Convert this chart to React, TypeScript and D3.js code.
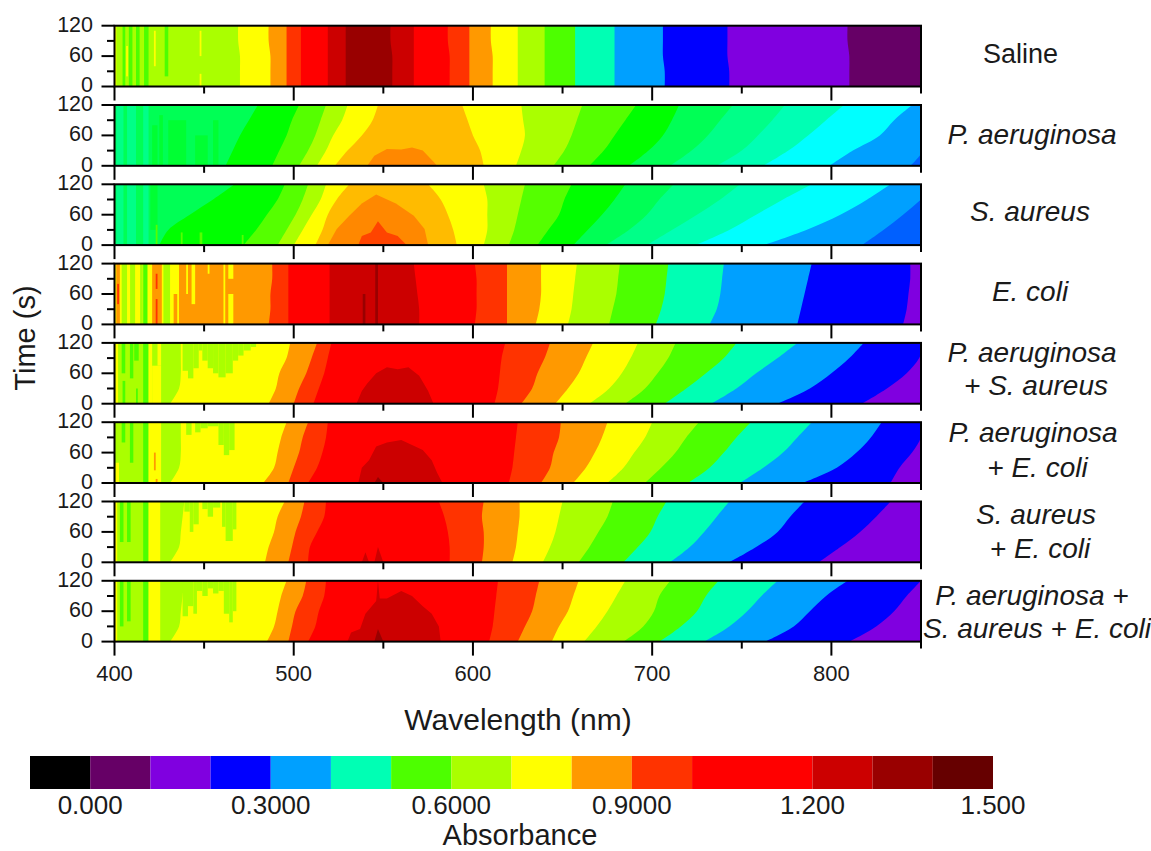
import React from "react";
import * as d3 from "d3";

// absorbance colour key, shown in the legend
const legendLevels = [-0.1, 0, 0.1, 0.2, 0.3, 0.4, 0.5, 0.6, 0.7, 0.8, 0.9, 1.0, 1.2, 1.3, 1.4, 1.5];
const legendColors = ["#000000", "#660066", "#8000e0", "#0000ff", "#00a0ff", "#00ffb4", "#4dff00", "#aaff00", "#ffff00", "#ff9900", "#ff3300", "#ff0000", "#cc0000", "#990000", "#660000"];
const legendTicks = [0, 0.3, 0.6, 0.9, 1.2, 1.5];
const legendLabels = ["0.000", "0.3000", "0.6000", "0.9000", "1.200", "1.500"];

// the two single-species panels use a finer contour step
const fineLevels = [0.34, 0.38, 0.42, 0.46, 0.5, 0.54, 0.555, 0.58, 0.62, 0.66, 0.7, 0.74, 0.78];
const fineColors = ["#0060ff", "#00a0ff", "#00ffff", "#00ffb4", "#00ff88", "#00ff55", "#00ff33", "#00ff00", "#55ff00", "#aaff00", "#ffff00", "#ffbb00", "#ff8800", "#ff4400"];

const timeNodes = [0, 30, 60, 90, 120];
const timeTicks = [0, 30, 60, 90, 120];
const wavelengthTicks = [400, 450, 500, 550, 600, 650, 700, 750, 800, 850];

// contour edges: [absorbance of the band to the right, wavelength at each time node]
const salineEdges = [
  [0.65, 400, 400, 400, 400, 400],
  [0.75, 470, 470, 470, 469, 469],
  [0.85, 487, 487, 487, 486, 486],
  [0.95, 496, 496, 496, 496, 496],
  [1.05, 504, 504, 504, 504, 504],
  [1.25, 519, 519, 519, 519, 519],
  [1.35, 529, 529, 529, 529, 529],
  [1.25, 555, 555, 555, 554, 554],
  [1.05, 567, 567, 567, 567, 567],
  [0.95, 587, 587, 587, 586, 586],
  [0.85, 598, 598, 598, 598, 598],
  [0.75, 611, 611, 611, 610, 610],
  [0.65, 625, 625, 625, 625, 625],
  [0.55, 640, 640, 640, 640, 640],
  [0.45, 657, 657, 657, 657, 657],
  [0.35, 679, 679, 679, 679, 679],
  [0.25, 707, 707, 706, 706, 706],
  [0.15, 743, 743, 742, 742, 742],
  [0.05, 810, 810, 810, 809, 809],
];
const pAeruginosaEdges = [
  [0.52, 400, 400, 400, 400, 400],
  [0.57, 462, 466, 470, 475, 480],
  [0.6, 488, 492, 496, 499, 503],
  [0.64, 503, 508, 512, 515, 518],
  [0.68, 513, 518, 522, 527, 530],
  [0.72, 523, 530, 538, 544, 547],
  [0.68, 606, 604, 600, 597, 594],
  [0.64, 624, 627, 629, 628, 627],
  [0.6, 645, 651, 655, 658, 661],
  [0.57, 665, 673, 679, 685, 691],
  [0.52, 687, 698, 706, 711, 715],
  [0.48, 710, 722, 731, 738, 745],
  [0.44, 736, 750, 759, 767, 774],
  [0.4, 762, 776, 787, 797, 807],
  [0.36, 799, 812, 827, 835, 845],
  [0.32, 844, 851, 851, 851, 851],
];
const sAureusEdges = [
  [0.52, 400, 400, 400, 400, 400],
  [0.57, 425, 430, 442, 455, 467],
  [0.6, 472, 479, 485, 491, 495],
  [0.64, 491, 496, 501, 505, 508],
  [0.68, 500, 505, 510, 515, 518],
  [0.72, 512, 516, 519, 524, 531],
  [0.68, 591, 589, 586, 582, 575],
  [0.64, 606, 608, 608, 608, 606],
  [0.6, 620, 623, 625, 627, 629],
  [0.57, 636, 642, 648, 651, 655],
  [0.52, 656, 664, 672, 679, 685],
  [0.48, 674, 687, 697, 704, 712],
  [0.44, 697, 711, 725, 738, 749],
  [0.4, 724, 743, 758, 773, 789],
  [0.36, 762, 786, 805, 820, 833],
  [0.32, 817, 829, 840, 850, 860],
];
const eColiEdges = [
  [0.75, 400, 400, 400, 400, 400],
  [0.85, 436, 436, 436, 436, 436],
  [0.95, 486, 487, 487, 488, 488],
  [1.05, 497, 497, 497, 497, 497],
  [1.25, 520, 520, 520, 520, 520],
  [1.05, 570, 570, 569, 568, 567],
  [0.95, 601, 602, 602, 602, 601],
  [0.85, 619, 619, 619, 619, 619],
  [0.75, 635, 637, 638, 638, 638],
  [0.65, 653, 655, 656, 657, 658],
  [0.55, 676, 678, 680, 681, 682],
  [0.45, 702, 705, 707, 708, 709],
  [0.35, 732, 736, 738, 739, 740],
  [0.25, 781, 783, 785, 787, 789],
  [0.15, 840, 842, 843, 844, 844],
];
const paSaEdges = [
  [0.65, 400, 400, 400, 400, 400],
  [0.75, 431, 436, 437, 437, 437],
  [0.85, 486, 490, 492, 496, 498],
  [0.95, 500, 503, 507, 510, 513],
  [1.05, 511, 514, 517, 519, 521],
  [0.95, 612, 614, 615, 616, 618],
  [0.85, 627, 633, 636, 640, 643],
  [0.75, 646, 653, 659, 663, 667],
  [0.65, 665, 676, 683, 688, 692],
  [0.55, 685, 696, 703, 709, 713],
  [0.45, 707, 719, 730, 740, 747],
  [0.35, 733, 747, 758, 770, 781],
  [0.25, 770, 788, 800, 810, 818],
  [0.15, 817, 831, 842, 849, 852],
];
const paEcEdges = [
  [0.65, 400, 400, 400, 400, 400],
  [0.75, 431, 436, 437, 437, 437],
  [0.85, 483, 489, 491, 493, 496],
  [0.95, 497, 500, 503, 505, 508],
  [1.05, 508, 513, 516, 518, 519],
  [0.95, 620, 622, 623, 624, 625],
  [0.85, 638, 643, 645, 648, 649],
  [0.75, 656, 663, 668, 672, 675],
  [0.65, 675, 684, 690, 696, 700],
  [0.55, 696, 705, 713, 719, 726],
  [0.45, 720, 732, 740, 747, 755],
  [0.35, 749, 762, 773, 781, 789],
  [0.25, 784, 803, 814, 822, 828],
  [0.15, 833, 838, 845, 850, 852],
];
const saEcEdges = [
  [0.65, 400, 400, 400, 400, 400],
  [0.75, 431, 436, 437, 438, 439],
  [0.85, 484, 486, 489, 491, 495],
  [0.95, 497, 499, 501, 504, 506],
  [1.05, 508, 509, 513, 517, 518],
  [0.95, 587, 587, 586, 584, 581],
  [0.85, 605, 606, 606, 605, 606],
  [0.75, 622, 624, 625, 626, 626],
  [0.65, 639, 643, 646, 648, 650],
  [0.55, 659, 665, 670, 675, 678],
  [0.45, 684, 692, 699, 703, 708],
  [0.35, 710, 721, 729, 736, 743],
  [0.25, 743, 758, 770, 777, 785],
  [0.15, 793, 805, 816, 825, 833],
];
const allThreeEdges = [
  [0.65, 400, 400, 400, 400, 400],
  [0.75, 431, 436, 437, 438, 439],
  [0.85, 485, 489, 491, 493, 496],
  [0.95, 497, 499, 501, 505, 507],
  [1.05, 508, 512, 514, 517, 518],
  [0.95, 609, 611, 612, 613, 614],
  [0.85, 625, 629, 633, 635, 637],
  [0.75, 644, 648, 653, 656, 659],
  [0.65, 662, 669, 675, 680, 685],
  [0.55, 684, 695, 701, 704, 710],
  [0.45, 704, 716, 725, 730, 737],
  [0.35, 729, 743, 753, 761, 770],
  [0.25, 763, 779, 788, 797, 809],
  [0.15, 810, 825, 835, 842, 850],
];

// closed contours sitting on the t = 0 axis: [absorbance, [wavelength, time]...]
const pAeruginosaIslands = [
  [0.76, [[541, 0], [545, 20], [552, 33], [560, 32], [566, 36], [572, 30], [578, 8], [580, 0]]],
];
const sAureusIslands = [
  [0.76, [[519, 0], [524, 32], [531, 58], [538, 82], [546, 100], [557, 82], [567, 58], [573, 32], [575, 0]]],
  [0.8, [[536, 0], [538, 18], [543, 25], [547, 47], [552, 25], [558, 18], [563, 0]]],
];
const paSaIslands = [
  [1.25, [[535, 0], [538, 25], [541, 40], [546, 60], [552, 72], [558, 68], [564, 72], [570, 55], [575, 25], [578, 0]]],
];
const paEcIslands = [
  [1.25, [[536, 0], [538, 30], [542, 45], [546, 72], [552, 80], [560, 85], [566, 75], [572, 65], [577, 45], [580, 20], [583, 0]]],
  [1.35, [[545, 0], [547, 12], [550, 0]]],
];
const saEcIslands = [
  [1.25, [[538, 0], [540, 20], [542, 0]]],
  [1.25, [[545, 0], [547, 30], [550, 0]]],
];
const allThreeIslands = [
  [1.25, [[530, 0], [532, 18], [537, 25], [540, 55], [546, 80], [547, 120], [548, 85], [552, 85], [560, 100], [566, 90], [572, 70], [577, 55], [581, 30], [582, 0]]],
  [1.35, [[545, 0], [547, 25], [550, 0]]],
];

// narrow vertical noise at the short-wavelength end: [absorbance, from nm, to nm, from s, to s]
const salineStripes = [
  [0.75, 400, 401, 0, 120], [0.55, 404.5, 406, 0, 120], [0.75, 406.5, 407.5, 20, 80], [0.55, 408, 410, 0, 120],
  [0.55, 412, 414, 0, 120], [0.55, 416.5, 419, 0, 120], [0.75, 422, 423, 40, 110], [0.55, 428, 430, 20, 120],
  [0.75, 447.5, 448.5, 0, 25], [0.75, 447.5, 448.5, 60, 110],
];
const pAeruginosaStripes = [
  [0.46, 401, 405, 0, 120], [0.46, 407, 412, 0, 120], [0.46, 416, 419, 0, 120],
  [0.545, 421, 424, 0, 80], [0.545, 425, 427, 0, 100], [0.545, 430, 440, 0, 90],
  [0.545, 445, 452, 0, 60], [0.545, 455, 458, 0, 90],
];
const sAureusStripes = [
  [0.46, 401, 405, 0, 120], [0.46, 407, 412, 0, 120], [0.46, 416, 419, 0, 120],
  [0.545, 420, 424, 30, 120], [0.6, 423, 424, 0, 40], [0.6, 437, 438, 0, 25], [0.6, 447.5, 449, 0, 25], [0.6, 471, 472, 0, 20],
];
const eColiStripes = [
  [0.85, 401, 403, 0, 120], [0.95, 401.5, 402.5, 40, 80], [0.65, 404, 407, 0, 120], [0.65, 408.7, 411.5, 0, 120],
  [0.65, 414.3, 415.8, 0, 120], [0.55, 416, 418.4, 0, 120], [0.85, 421, 426.4, 0, 120], [0.95, 423, 424, 0, 50],
  [0.95, 423, 424, 70, 100], [0.65, 427.3, 431, 0, 120], [0.85, 433, 435, 0, 60],
  [0.75, 440, 441, 60, 120], [0.75, 443, 445, 40, 120], [0.75, 452, 453, 100, 120],
  [0.75, 460.8, 461.8, 0, 120], [0.75, 463.5, 466.3, 0, 60], [0.75, 463.5, 466.3, 90, 120],
  [1.35, 538.5, 540, 0, 60], [1.35, 545.5, 547, 0, 120],
];
const paSaStripes = [
  [0.75, 400.5, 402, 0, 120], [0.55, 404, 406, 60, 120], [0.55, 404.5, 406, 0, 45], [0.55, 408.6, 410.5, 50, 120],
  [0.55, 411, 413.5, 85, 120], [0.55, 412, 413, 0, 30], [0.55, 416, 419, 0, 120],
  [0.75, 419, 421, 0, 120], [0.75, 421, 426, 0, 75], [0.75, 424, 426, 75, 120],
  [0.65, 438, 441, 65, 120], [0.65, 441, 444, 50, 120], [0.65, 444, 447, 70, 120], [0.65, 447, 449, 105, 120],
  [0.65, 449, 452, 85, 120], [0.65, 452, 455, 70, 120], [0.65, 455, 458, 60, 120], [0.65, 458, 462, 52, 120],
  [0.65, 462, 466, 60, 120], [0.65, 466, 469, 85, 120], [0.65, 469, 472, 95, 120], [0.65, 472, 476, 105, 120],
  [0.65, 476, 479, 112, 120],
];
const paEcStripes = [
  [0.75, 400.5, 402.5, 0, 40], [0.55, 404, 406, 80, 120], [0.55, 408.6, 410.5, 40, 120],
  [0.55, 416, 419, 0, 120], [0.75, 419, 426, 0, 120], [0.85, 422, 423, 25, 60], [0.85, 423, 424, 0, 8],
  [0.65, 440, 443, 95, 120], [0.65, 445, 448, 100, 120], [0.65, 448, 452, 108, 120], [0.65, 452, 458, 112, 120],
  [0.65, 458, 461, 75, 120], [0.65, 461, 464, 55, 120], [0.65, 464, 467, 65, 120],
];
const saEcStripes = [
  [0.75, 400, 401.5, 0, 120], [0.55, 403, 405, 40, 120], [0.55, 407, 409, 40, 120],
  [0.55, 416, 419, 0, 120], [0.75, 419, 425.5, 0, 120],
  [0.65, 439, 442, 100, 120], [0.65, 442, 444, 60, 120], [0.65, 444, 447, 75, 120], [0.65, 449, 452, 105, 120],
  [0.65, 452, 455, 90, 120], [0.65, 455, 459, 108, 120], [0.65, 460, 462, 70, 120], [0.65, 462, 466, 42, 120],
  [0.65, 466, 468, 65, 120],
];
const allThreeStripes = [
  [0.75, 400, 401.5, 0, 120], [0.55, 403, 405, 30, 120], [0.55, 407, 409, 40, 120],
  [0.55, 416, 419, 0, 120], [0.75, 419, 425.5, 0, 120],
  [0.65, 438, 441, 50, 120], [0.65, 441, 444, 70, 120], [0.65, 444, 446, 55, 120], [0.65, 446, 449, 100, 120],
  [0.65, 449, 452, 90, 120], [0.65, 452, 455, 105, 120], [0.65, 455, 458, 95, 120], [0.65, 458, 461, 100, 120],
  [0.65, 461, 464, 55, 120], [0.65, 464, 466, 38, 120], [0.65, 466, 468, 60, 120],
];

const panelNames = [
  ["Saline"],
  ["P. aeruginosa"],
  ["S. aureus"],
  ["E. coli"],
  ["P. aeruginosa", "+ S. aureus"],
  ["P. aeruginosa", "+ E. coli"],
  ["S. aureus", "+ E. coli"],
  ["P. aeruginosa +", "S. aureus + E. coli"],
];
const panelEdges = [salineEdges, pAeruginosaEdges, sAureusEdges, eColiEdges, paSaEdges, paEcEdges, saEcEdges, allThreeEdges];
const panelStripes = [salineStripes, pAeruginosaStripes, sAureusStripes, eColiStripes, paSaStripes, paEcStripes, saEcStripes, allThreeStripes];
const panelIslands = [[], pAeruginosaIslands, sAureusIslands, [], paSaIslands, paEcIslands, saEcIslands, allThreeIslands];
const finePanels = [1, 2];

// where each line of the panel names sits: centre x, baseline y
const nameCentres = [[1020.5], [1032], [1030], [1030], [1032, 1036], [1033, 1037.5], [1036, 1040], [1032, 1037]];
const nameBaselines = [[63], [144], [221], [301], [362, 395], [442, 477], [524, 558], [605, 638]];

const sizing = { width: 1151, height: 851, panelH: 60.8, panelStep: 79.3, top: 25.7 };
const font = "'Liberation Sans', Arial, sans-serif";
const ink = "#1a1a1a";

const xScale = d3.scaleLinear().domain([400, 850]).range([114.5, 921]);
const yScale = d3.scaleLinear().domain([0, 120]).range([sizing.panelH, 0]);
const legendScale = d3.scaleLinear().domain([-0.1, 1.5]).range([30, 993]);
const panelTop = d3.scaleLinear().domain([0, 1]).range([sizing.top, sizing.top + sizing.panelStep]);
const coarseColor = d3.scaleThreshold<number, string>().domain(legendLevels.slice(1, -1)).range(legendColors);
const fineColor = d3.scaleThreshold<number, string>().domain(fineLevels).range(fineColors);

const islandPath = d3.line<number[]>().x((d) => xScale(d[0])).y((d) => yScale(d[1]));

function Panel({ index }: { index: number }) {
  const color = finePanels.includes(index) ? fineColor : coarseColor;
  const clipId = `panel-clip-${index}`;
  const bandPath = (edge: number[]) =>
    d3
      .area<number>()
      .curve(d3.curveCatmullRom)
      .y((t) => yScale(t))
      .x0((_, i) => xScale(edge[i + 1]))
      .x1(xScale(850))(timeNodes);

  return (
    <g transform={`translate(0,${panelTop(index)})`}>
      <clipPath id={clipId}>
        <rect x={xScale(400)} y={0} width={xScale(850) - xScale(400)} height={sizing.panelH} />
      </clipPath>
      <g clipPath={`url(#${clipId})`}>
        {panelEdges[index].map((edge, i) => (
          <path key={`band${i}`} d={bandPath(edge) as string} fill={color(edge[0])} />
        ))}
        {panelStripes[index].map((s, i) => (
          <rect
            key={`stripe${i}`}
            x={xScale(s[1])}
            width={xScale(s[2]) - xScale(s[1])}
            y={yScale(s[4])}
            height={yScale(s[3]) - yScale(s[4])}
            fill={color(s[0])}
          />
        ))}
        {(panelIslands[index] as any[]).map((isl, i) => (
          <path key={`island${i}`} d={(islandPath(isl[1]) as string) + "Z"} fill={color(isl[0])} />
        ))}
      </g>
      <rect x={xScale(400)} y={0} width={xScale(850) - xScale(400)} height={sizing.panelH} fill="none" stroke="#000" strokeWidth={2} />
      {timeTicks.map((t) => (
        <line
          key={`yt${t}`}
          x1={xScale(400) - (t % 60 === 0 ? 13 : 7.5)}
          x2={xScale(400)}
          y1={yScale(t)}
          y2={yScale(t)}
          stroke="#000"
          strokeWidth={2}
        />
      ))}
      {timeTicks
        .filter((t) => t % 60 === 0)
        .map((t) => (
          <text key={`yl${t}`} x={93} y={yScale(t) + 6} textAnchor="end" fontSize={21.5} fill={ink} fontFamily={font}>
            {t}
          </text>
        ))}
      {wavelengthTicks.map((w) => (
        <line
          key={`xt${w}`}
          x1={xScale(w)}
          x2={xScale(w)}
          y1={sizing.panelH}
          y2={sizing.panelH + (w % 100 === 0 ? 14 : 7)}
          stroke="#000"
          strokeWidth={2}
        />
      ))}
    </g>
  );
}

export default function App() {
  const segs = legendColors.map((c, i) => ({ c, x0: legendScale(legendLevels[i]), x1: legendScale(legendLevels[i + 1]) }));
  return (
    <svg
      width={sizing.width}
      height={sizing.height}
      style={{ position: "absolute", left: 0, top: 0, background: "#fff" }}
    >
      {panelEdges.map((_, i) => (
        <Panel key={`panel${i}`} index={i} />
      ))}

      {panelNames.map((lines, i) =>
        lines.map((line, j) => (
          <text
            key={`name${i}-${j}`}
            x={nameCentres[i][j]}
            y={nameBaselines[i][j]}
            textAnchor="middle"
            fontSize={i === 0 ? 27 : 28}
            fontStyle={i === 0 ? "normal" : "italic"}
            fill={ink}
            fontFamily={font}
          >
            {line}
          </text>
        ))
      )}

      {wavelengthTicks
        .filter((w) => w % 100 === 0)
        .map((w) => (
          <text key={`xl${w}`} x={xScale(w)} y={681} textAnchor="middle" fontSize={22} fill={ink} fontFamily={font}>
            {w}
          </text>
        ))}
      <text x={518} y={730} textAnchor="middle" fontSize={30} fill={ink} fontFamily={font}>
        Wavelength (nm)
      </text>
      <text transform="translate(35,338) rotate(-90)" textAnchor="middle" fontSize={29} fill={ink} fontFamily={font}>
        Time (s)
      </text>

      {segs.map((s, i) => (
        <rect key={`seg${i}`} x={s.x0} y={756} width={s.x1 - s.x0} height={33} fill={s.c} />
      ))}
      {legendTicks.map((v, i) => (
        <text key={`lt${v}`} x={legendScale(v)} y={814} textAnchor="middle" fontSize={26} fill={ink} fontFamily={font}>
          {legendLabels[i]}
        </text>
      ))}
      <text x={520} y={844.5} textAnchor="middle" fontSize={29} fill={ink} fontFamily={font}>
        Absorbance
      </text>
    </svg>
  );
}
